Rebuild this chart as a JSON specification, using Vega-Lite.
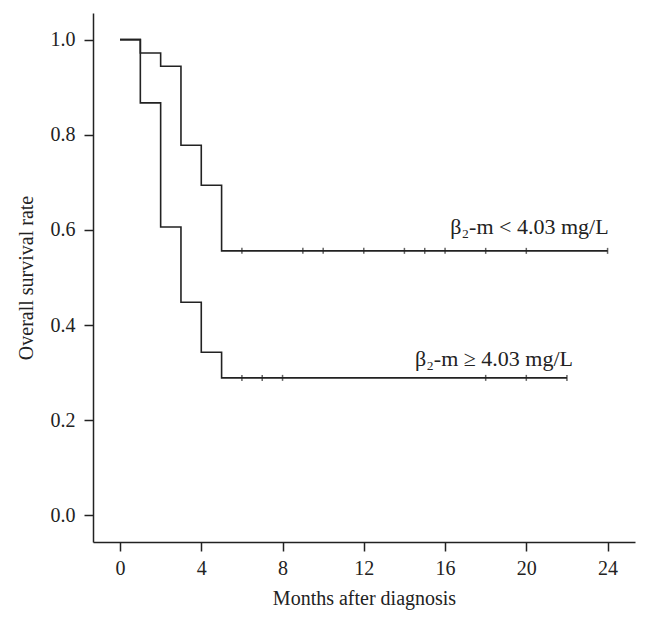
{
  "$schema": "https://vega.github.io/schema/vega-lite/v6.json",
  "width": 542,
  "height": 529,
  "autosize": "none",
  "padding": {"left": 93, "top": 13, "right": 13, "bottom": 86},
  "background": "white",
  "config": {
    "view": {"stroke": null},
    "font": "Liberation Serif",
    "axis": {
      "grid": false,
      "domainColor": "#222222",
      "domainWidth": 1.5,
      "tickColor": "#222222",
      "tickWidth": 1.5,
      "tickSize": 9,
      "labelFont": "Liberation Serif",
      "labelFontSize": 20,
      "labelColor": "#222222",
      "titleFont": "Liberation Serif",
      "titleFontSize": 20,
      "titleFontWeight": "normal",
      "titleColor": "#222222"
    }
  },
  "datasets": {
    "curves": [
      {"group": "low", "month": 0, "rate": 1.0},
      {"group": "low", "month": 1, "rate": 0.972},
      {"group": "low", "month": 2, "rate": 0.944},
      {"group": "low", "month": 3, "rate": 0.778},
      {"group": "low", "month": 4, "rate": 0.694},
      {"group": "low", "month": 5, "rate": 0.556},
      {"group": "low", "month": 24, "rate": 0.556},
      {"group": "high", "month": 0, "rate": 1.0},
      {"group": "high", "month": 1, "rate": 0.867},
      {"group": "high", "month": 2, "rate": 0.606},
      {"group": "high", "month": 3, "rate": 0.448},
      {"group": "high", "month": 4, "rate": 0.343},
      {"group": "high", "month": 5, "rate": 0.289},
      {"group": "high", "month": 22, "rate": 0.289}
    ],
    "censored": [
      {"group": "low", "month": 6, "rate": 0.556},
      {"group": "low", "month": 9, "rate": 0.556},
      {"group": "low", "month": 10, "rate": 0.556},
      {"group": "low", "month": 12, "rate": 0.556},
      {"group": "low", "month": 14, "rate": 0.556},
      {"group": "low", "month": 15, "rate": 0.556},
      {"group": "low", "month": 16, "rate": 0.556},
      {"group": "low", "month": 18, "rate": 0.556},
      {"group": "low", "month": 20, "rate": 0.556},
      {"group": "low", "month": 24, "rate": 0.556},
      {"group": "high", "month": 6, "rate": 0.289},
      {"group": "high", "month": 7, "rate": 0.289},
      {"group": "high", "month": 8, "rate": 0.289},
      {"group": "high", "month": 18, "rate": 0.289},
      {"group": "high", "month": 20, "rate": 0.289},
      {"group": "high", "month": 22, "rate": 0.289}
    ],
    "labels": [
      {"label": "β₂-m < 4.03 mg/L", "month": 24.05, "rate": 0.592},
      {"label": "β₂-m ≥ 4.03 mg/L", "month": 22.3, "rate": 0.313}
    ]
  },
  "encoding": {
    "x": {
      "field": "month",
      "type": "quantitative",
      "scale": {"domain": [-1.33, 25.35], "nice": false, "zero": false},
      "axis": {"values": [0, 4, 8, 12, 16, 20, 24], "title": "Months after diagnosis", "labelPadding": 7, "titlePadding": 10}
    },
    "y": {
      "field": "rate",
      "type": "quantitative",
      "scale": {"domain": [-0.056, 1.056], "nice": false, "zero": false},
      "axis": {"values": [0, 0.2, 0.4, 0.6, 0.8, 1.0], "format": ".1f", "title": "Overall survival rate", "labelPadding": 9, "titlePadding": 14}
    }
  },
  "layer": [
    {
      "data": {"name": "curves"},
      "mark": {"type": "line", "interpolate": "step-after", "color": "#222222", "strokeWidth": 1.6},
      "encoding": {"detail": {"field": "group"}}
    },
    {
      "data": {"name": "censored"},
      "mark": {"type": "tick", "orient": "vertical", "color": "#222222", "size": 6, "thickness": 1.5}
    },
    {
      "data": {"name": "labels"},
      "mark": {"type": "text", "align": "right", "baseline": "alphabetic", "font": "Liberation Serif", "fontSize": 22, "color": "#222222"},
      "encoding": {"text": {"field": "label"}}
    }
  ]
}
